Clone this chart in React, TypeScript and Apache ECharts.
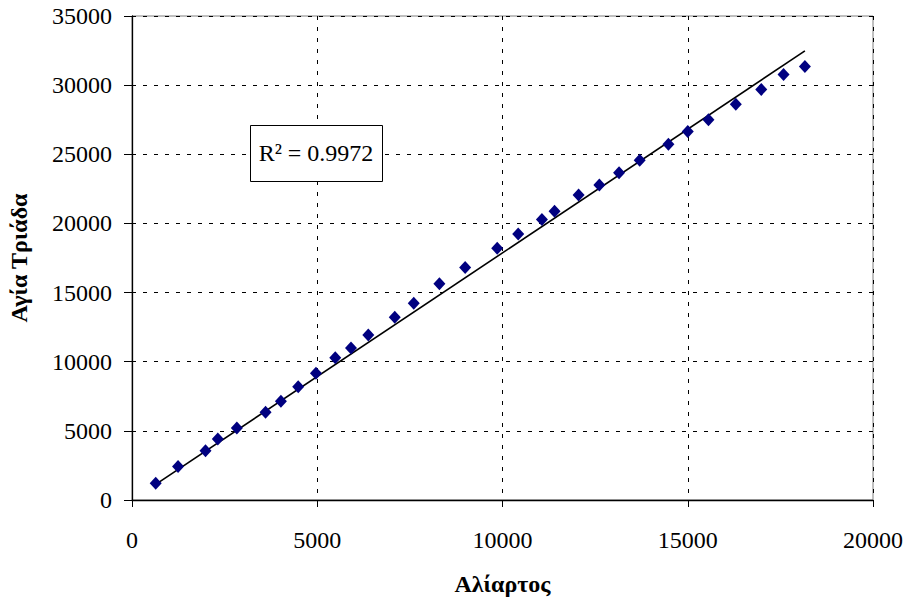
import React, { useEffect, useRef } from "react";
import * as echarts from "echarts";

const xValues = [640, 1243, 1984, 2316, 2830, 3605, 4019, 4486, 4965, 5486, 5911, 6378, 7092, 7605, 8297, 8992, 9857, 10424, 11064, 11405, 12054, 12614, 13146, 13703, 14478, 15000, 15559, 16297, 16984, 17586, 18162];
const yValues = [1212, 2418, 3557, 4407, 5205, 6338, 7137, 8182, 9169, 10287, 10984, 11928, 13213, 14230, 15631, 16821, 18201, 19239, 20277, 20887, 22049, 22775, 23668, 24561, 25722, 26644, 27493, 28626, 29693, 30761, 31342];
// Trendline end points
const trendX = [640, 18162];
const trendY = [1125, 32474];
const xAxisTitle = "Αλίαρτος";
const yAxisTitle = "Αγία Τριάδα";
const r2Label = "R² = 0.9972";

export default function App() {
  const ref = useRef<HTMLDivElement>(null);
  useEffect(() => {
    if (!ref.current) return;
    const chart = echarts.init(ref.current, undefined, { renderer: "svg" });
    const font = "'Liberation Serif', 'Times New Roman', serif";
    chart.setOption({
      animation: false,
      backgroundColor: "#ffffff",
      textStyle: { fontFamily: font },
      grid: {
        left: 132,
        right: 36,
        top: 16,
        bottom: 108,
        containLabel: false,
        outerBoundsMode: "none",
        show: true,
        borderColor: "#808080",
        borderWidth: 1,
        backgroundColor: "transparent",
      },
      xAxis: {
        type: "value",
        min: 0,
        max: 20000,
        interval: 5000,
        name: xAxisTitle,
        nameLocation: "middle",
        nameGap: 72,
        nameTextStyle: { fontFamily: font, fontSize: 24, fontWeight: "bold", color: "#000" },
        axisLine: { show: true, onZero: false, lineStyle: { color: "#000", width: 1.3 } },
        axisTick: { show: true, inside: false, length: 7, lineStyle: { color: "#000" } },
        axisLabel: { fontFamily: font, fontSize: 24, color: "#000", margin: 28, formatter: (v: number) => String(v) },
        splitLine: { show: true, lineStyle: { color: "#000", width: 1, type: [4, 7] } },
      },
      yAxis: {
        type: "value",
        min: 0,
        max: 35000,
        interval: 5000,
        name: yAxisTitle,
        nameLocation: "middle",
        nameGap: 101,
        nameRotate: 90,
        nameTextStyle: { fontFamily: font, fontSize: 24, fontWeight: "bold", color: "#000" },
        axisLine: { show: true, onZero: false, lineStyle: { color: "#000", width: 1.3 } },
        axisTick: { show: true, inside: false, length: 8, lineStyle: { color: "#000" } },
        axisLabel: { fontFamily: font, fontSize: 24, color: "#000", margin: 20, formatter: (v: number) => String(v) },
        splitLine: { show: true, lineStyle: { color: "#000", width: 1, type: [4, 7] } },
      },
      series: [
        {
          type: "line",
          data: trendX.map((x, i) => [x, trendY[i]]),
          showSymbol: false,
          symbol: "none",
          lineStyle: { color: "#000", width: 1.6 },
          z: 3,
          silent: true,
        },
        {
          type: "scatter",
          data: xValues.map((x, i) => [x, yValues[i]]),
          symbol: "diamond",
          symbolSize: [12, 13],
          itemStyle: { color: "#000080", opacity: 1 },
          z: 4,
        },
      ],
      graphic: [
        {
          type: "rect",
          left: 250,
          top: 125,
          shape: { width: 132, height: 56 },
          style: { fill: "#fff", stroke: "#000", lineWidth: 1 },
          z: 10,
        },
        {
          type: "text",
          x: 316,
          y: 153,
          style: {
            text: r2Label,
            font: "24px 'Liberation Serif', 'Times New Roman', serif",
            fill: "#000",
            align: "center",
            verticalAlign: "middle",
          },
          z: 11,
        },
      ],
    });
    return () => chart.dispose();
  }, []);
  return (
    <div
      ref={ref}
      style={{ position: "absolute", left: 0, top: 0, width: 909, height: 608 }}
    />
  );
}
